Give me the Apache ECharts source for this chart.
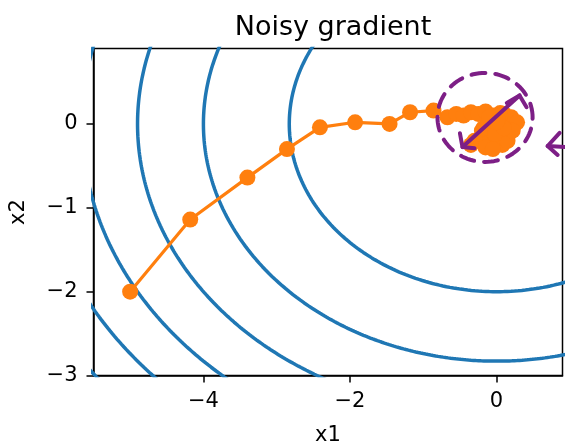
<!DOCTYPE html>
<html>
<head>
<meta charset="utf-8">
<script src="https://cdn.jsdelivr.net/npm/echarts@6/dist/echarts.min.js"></script>
<style>html,body{margin:0;padding:0;background:#fff}#c{width:565px;height:445px}</style>
</head>
<body>
<div id="c"></div>
<script>
// Contour levels of f(x1,x2) = x1^2 + 2*x2^2
const contourLevels = [8, 16, 24, 32, 40, 48];
// Trajectory of noisy SGD
const trajX1 = [-5.0, -4.18, -3.40, -2.86, -2.41, -1.93, -1.46, -1.18, -0.86, -0.67,
  -0.55, -0.45, -0.35, -0.25, -0.15, -0.05, 0.05, 0.15, 0.20, 0.10, 0.00, -0.10, -0.20, -0.10, 0.05,
  0.15, 0.25, 0.10, -0.05, -0.30, -0.35, -0.15, 0.00, 0.10, 0.20, 0.28, 0.05, -0.08, 0.00, -0.18,
  0.08, -0.05, 0.15, 0.22, 0.00, -0.10, 0.05, -0.02, 0.10, 0.02, 0.00];
const trajX2 = [-2.0, -1.14, -0.64, -0.30, -0.04, 0.02, 0.00, 0.14, 0.16, 0.08,
  0.12, 0.10, 0.14, 0.12, 0.15, 0.10, 0.13, 0.05, -0.05, -0.10, -0.05, 0.00, -0.08, -0.18, -0.20,
  -0.12, 0.00, 0.05, -0.10, -0.20, -0.25, -0.28, -0.15, 0.12, 0.08, 0.02, -0.02, 0.05, 0.08, -0.05,
  -0.25, -0.30, -0.20, -0.08, 0.00, 0.08, 0.10, -0.12, -0.05, 0.05, 0.02];
const xTicks = [-4, -2, 0];
const yTicks = [-3, -2, -1, 0];
// Hand-drawn annotation (data coordinates)
const annoEllipse = {cx: -0.157, cy: 0.078, rx: 0.649, ry: 0.531};
const annoArrowLine = [[-0.465, -0.275], [0.314, 0.34]];
const annoHeadA = [[-0.50, -0.11], [-0.465, -0.275], [-0.30, -0.29]];
const annoHeadB = [[0.14, 0.25], [0.314, 0.34], [0.41, 0.20]];
const annoRightArrow = [[0.861, -0.107], [0.697, -0.263], [0.834, -0.37]];
const annoRightLine = [[0.697, -0.263], [0.95, -0.275]];

const tickFmt = v => String(v).replace('-', '\u2212');

function ellipse(c) {
  const a = Math.sqrt(c), b = Math.sqrt(c / 2), pts = [];
  for (let i = 0; i <= 720; i++) {
    const t = i / 720 * 2 * Math.PI;
    pts.push([a * Math.cos(t), b * Math.sin(t)]);
  }
  return pts;
}
function annoEll(e) {
  const pts = [];
  for (let i = 0; i <= 200; i++) {
    const t = i / 200 * 2 * Math.PI;
    pts.push([e.cx + e.rx * Math.cos(t), e.cy + e.ry * Math.sin(t)]);
  }
  return pts;
}

const series = [];
contourLevels.forEach(c => series.push({
  type: 'line', data: ellipse(c), showSymbol: false, symbol: 'none',
  lineStyle: {color: '#1f77b4', width: 3.5}, z: 2, silent: true, animation: false
}));
series.push({
  type: 'line', data: trajX1.map((x, i) => [x, trajX2[i]]),
  symbol: 'circle', symbolSize: 16, showSymbol: true,
  itemStyle: {color: '#ff7f0e'}, lineStyle: {color: '#ff7f0e', width: 3.2},
  z: 3, animation: false
});
const purple = '#7d1f86';
series.push({type: 'line', data: annoEll(annoEllipse), symbol: 'none', z: 5, animation: false,
  lineStyle: {color: purple, width: 4, type: [14, 10], cap: 'round'}});
[annoArrowLine, annoHeadA, annoHeadB].forEach(d => series.push({type: 'line', data: d, symbol: 'none', z: 5, animation: false,
  lineStyle: {color: purple, width: 4, cap: 'round', join: 'round'}}));
[annoRightArrow, annoRightLine].forEach(d => series.push({type: 'line', data: d, symbol: 'none', z: 5, clip: false, animation: false,
  lineStyle: {color: purple, width: 4, cap: 'round', join: 'round'}}));

const font = 'DejaVu Sans';
const chart = echarts.init(document.getElementById('c'));
chart.setOption({
  backgroundColor: '#fff',
  animation: false,
  title: {text: 'Noisy gradient', left: 328, top: 9, textAlign: 'center',
    textStyle: {fontFamily: font, fontSize: 27, fontWeight: 'normal', color: '#000'}},
  grid: {left: 93.5, right: 2.5, top: 48.5, bottom: 69.5, show: true, borderColor: '#000', borderWidth: 1.5,
    containLabel: false, outerBoundsMode: 'none'},
  xAxis: {type: 'value', min: -5.5, max: 0.9, name: 'x1', nameLocation: 'middle', nameGap: 50,
    nameTextStyle: {fontFamily: font, fontSize: 21, color: '#000'},
    axisLine: {show: true, onZero: false, lineStyle: {color: '#000', width: 1.5}},
    axisTick: {show: true, customValues: xTicks, length: 7, lineStyle: {color: '#000', width: 1.5}},
    axisLabel: {customValues: xTicks, formatter: tickFmt, margin: 16, fontFamily: font, fontSize: 21, color: '#000'},
    splitLine: {show: false}},
  yAxis: {type: 'value', min: -3, max: 0.9, name: 'x2', nameLocation: 'middle', nameGap: 64,
    nameTextStyle: {fontFamily: font, fontSize: 21, color: '#000'},
    axisLine: {show: true, onZero: false, lineStyle: {color: '#000', width: 1.5}},
    axisTick: {show: true, customValues: yTicks, length: 7, lineStyle: {color: '#000', width: 1.5}},
    axisLabel: {customValues: yTicks, formatter: tickFmt, margin: 16, fontFamily: font, fontSize: 21, color: '#000'},
    splitLine: {show: false}},
  series: series
});
</script>
</body>
</html>
